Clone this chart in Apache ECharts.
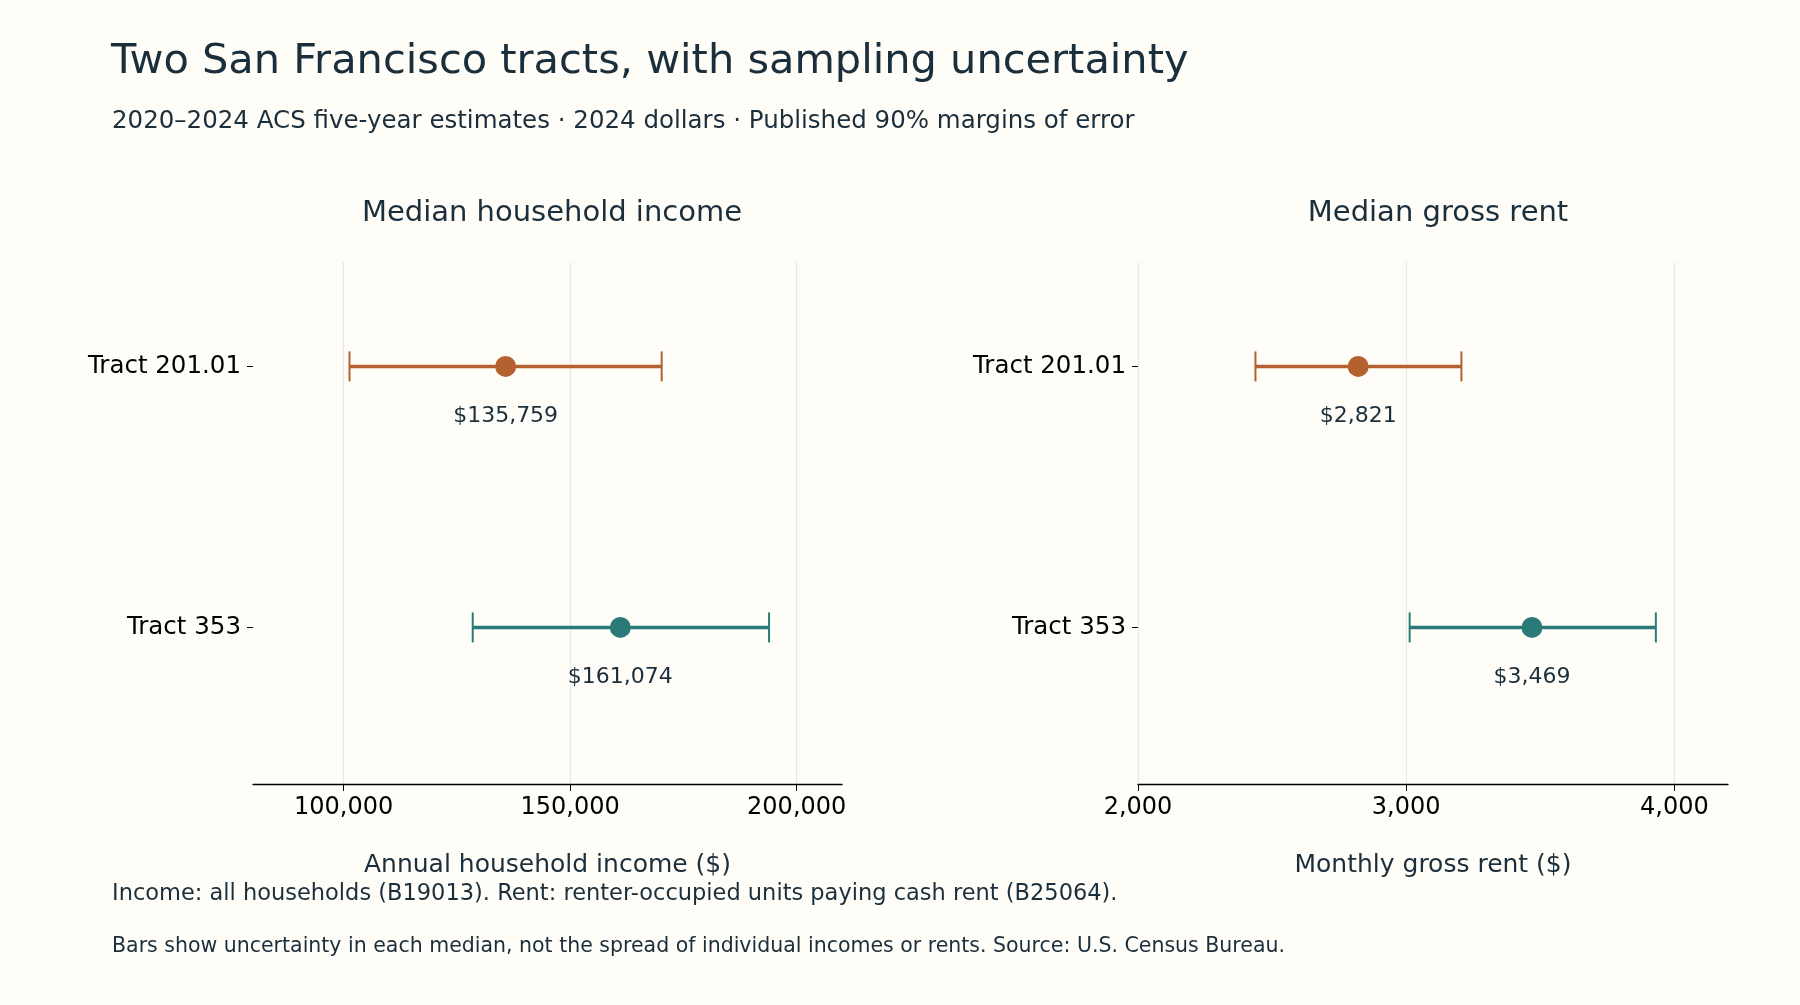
<!DOCTYPE html>
<html><head><meta charset="utf-8">
<script src="https://cdn.jsdelivr.net/npm/echarts@6/dist/echarts.min.js"></script>
<style>html,body{margin:0;background:#fffdf8}#c{width:1800px;height:1005px}</style>
</head><body><div id="c"></div>
<script>
const tracts = ['Tract 353', 'Tract 201.01'];
const colors = ['#2a7b78', '#b5602f'];
const incomeEst = [161074, 135759];
const incomeLow = [128500, 101300];
const incomeHigh = [193900, 170200];
const rentEst = [3469, 2821];
const rentLow = [3013, 2438];
const rentHigh = [3931, 3206];
const incomeTicks = [100000, 150000, 200000];
const rentTicks = [2000, 3000, 4000];

const txt = '#1a2e3b';
const font = 'DejaVu Sans';
function bars(idx, est, lo, hi, fmt) {
  return {
    type: 'custom', xAxisIndex: idx, yAxisIndex: idx,
    data: est.map((v, i) => [lo[i], hi[i], i, v]),
    renderItem: (p, api) => {
      const a = api.coord([api.value(0), api.value(2)]);
      const b = api.coord([api.value(1), api.value(2)]);
      const m = api.coord([api.value(3), api.value(2)]);
      const c = colors[p.dataIndex];
      return { type: 'group', children: [
        { type: 'line', shape: { x1: a[0], y1: a[1], x2: b[0], y2: b[1] }, style: { stroke: c, lineWidth: 3.5 } },
        { type: 'line', shape: { x1: a[0], y1: a[1] - 15, x2: a[0], y2: a[1] + 15 }, style: { stroke: c, lineWidth: 2 } },
        { type: 'line', shape: { x1: b[0], y1: b[1] - 15, x2: b[0], y2: b[1] + 15 }, style: { stroke: c, lineWidth: 2 } },
        { type: 'circle', shape: { cx: m[0], cy: m[1], r: 10.5 }, style: { fill: c } },
        { type: 'text', x: m[0], y: m[1] + 50, style: { text: fmt(api.value(3)), fill: txt, fontSize: 22, fontFamily: font, align: 'center', verticalAlign: 'middle' } }
      ]};
    }
  };
}
const money = v => '$' + Math.round(v).toLocaleString('en-US');
function xa(idx, min, max, ticks, name) {
  return { gridIndex: idx, type: 'value', min, max, name, nameLocation: 'middle', nameGap: 69,
    nameTextStyle: { fontSize: 25, color: txt, fontFamily: font },
    axisLine: { show: true, onZero: false, lineStyle: { color: '#000', width: 1.3 } },
    axisTick: { show: true, customValues: ticks, length: 7, lineStyle: { color: '#000' } },
    axisLabel: { customValues: ticks, fontSize: 24, color: '#000', fontFamily: font, margin: 12, formatter: v => v.toLocaleString('en-US') },
    splitLine: { show: true, lineStyle: { color: '#e8e8e4', width: 1.2 } } };
}
function ya(idx) {
  return { gridIndex: idx, type: 'value', min: -0.6, max: 1.4,
    axisLine: { show: false },
    axisTick: { show: true, customValues: [0, 1], length: 6, lineStyle: { color: '#000' } },
    axisLabel: { customValues: [0, 1], fontSize: 24.5, color: '#000', fontFamily: font, margin: 12, formatter: v => tracts[Math.round(v)] },
    splitLine: { show: false } };
}
const chart = echarts.init(document.getElementById('c'));
chart.setOption({
  backgroundColor: '#fffdf8',
  animation: false,
  title: [
    { text: 'Two San Francisco tracts, with sampling uncertainty', left: 106, top: 36, textStyle: { fontSize: 41.5, fontWeight: 'normal', color: txt, fontFamily: font } },
    { text: '2020–2024 ACS five-year estimates · 2024 dollars · Published 90% margins of error', left: 107, top: 104, textStyle: { fontSize: 24.5, fontWeight: 'normal', color: txt, fontFamily: font } },
    { text: 'Median household income', left: 547, textAlign: 'center', top: 194, textStyle: { fontSize: 29, fontWeight: 'normal', color: txt, fontFamily: font } },
    { text: 'Median gross rent', left: 1433, textAlign: 'center', top: 194, textStyle: { fontSize: 29, fontWeight: 'normal', color: txt, fontFamily: font } },
    { text: 'Income: all households (B19013). Rent: renter-occupied units paying cash rent (B25064).', left: 107, top: 878, textStyle: { fontSize: 22.5, fontWeight: 'normal', color: txt, fontFamily: font } },
    { text: 'Bars show uncertainty in each median, not the spread of individual incomes or rents. Source: U.S. Census Bureau.', left: 107, top: 931, textStyle: { fontSize: 20.5, fontWeight: 'normal', color: txt, fontFamily: font } }
  ],
  grid: [
    { left: 253, width: 589, top: 262, height: 522 },
    { left: 1138, width: 590, top: 262, height: 522 }
  ],
  xAxis: [ xa(0, 80000, 210000, incomeTicks, 'Annual household income ($)'), xa(1, 2000, 4200, rentTicks, 'Monthly gross rent ($)') ],
  yAxis: [ ya(0), ya(1) ],
  series: [ bars(0, incomeEst, incomeLow, incomeHigh, money), bars(1, rentEst, rentLow, rentHigh, money) ]
});
</script></body></html>
